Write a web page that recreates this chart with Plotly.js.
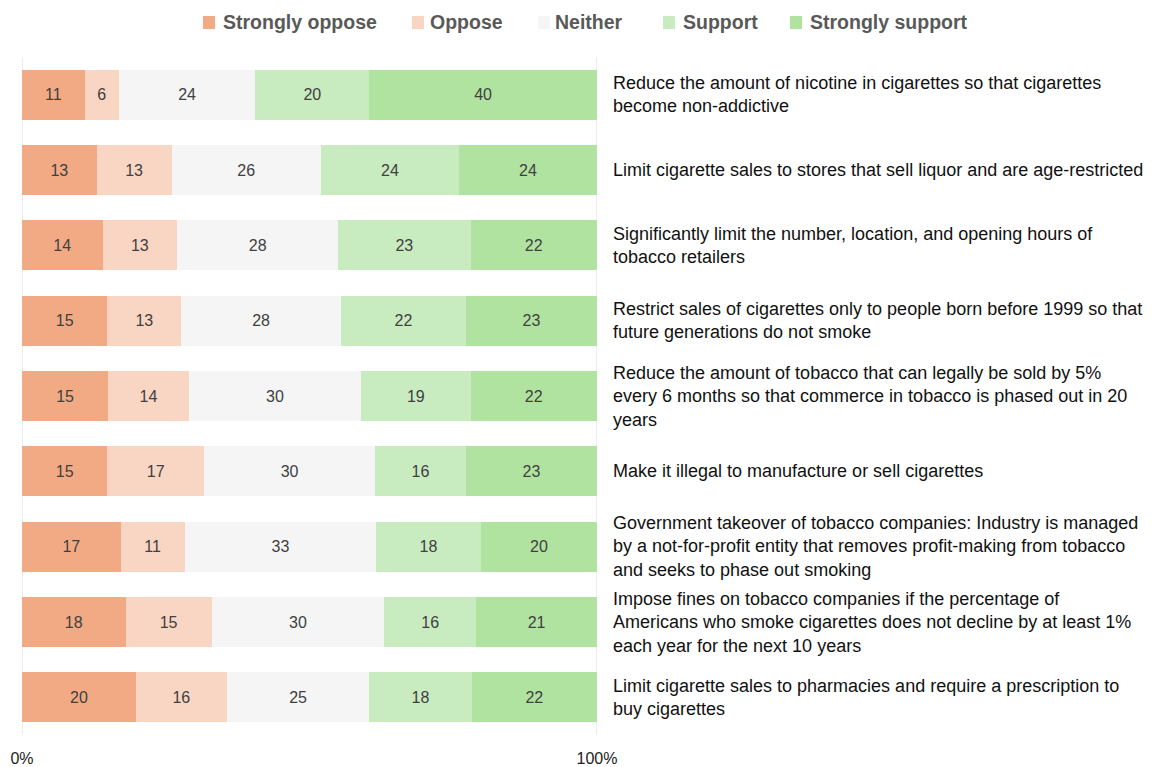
<!DOCTYPE html>
<html>
<head>
<meta charset="utf-8">
<script src="https://cdn.plot.ly/plotly-3.0.1.min.js"></script>
<style>html,body{margin:0;padding:0;background:#fff;}#chart{width:1173px;height:767px;}</style>
</head>
<body>
<div id="chart"></div>
<script>
const statements = [
  "Reduce the amount of nicotine in cigarettes so that cigarettes<br>become non-addictive",
  "Limit cigarette sales to stores that sell liquor and are age-restricted",
  "Significantly limit the number, location, and opening hours of<br>tobacco retailers",
  "Restrict sales of cigarettes only to people born before 1999 so that<br>future generations do not smoke",
  "Reduce the amount of tobacco that can legally be sold by 5%<br>every 6 months so that commerce in tobacco is phased out in 20<br>years",
  "Make it illegal to manufacture or sell cigarettes",
  "Government takeover of tobacco companies: Industry is managed<br>by a not-for-profit entity that removes profit-making from tobacco<br>and seeks to phase out smoking",
  "Impose fines on tobacco companies if the percentage of<br>Americans who smoke cigarettes does not decline by at least 1%<br>each year for the next 10 years",
  "Limit cigarette sales to pharmacies and require a prescription to<br>buy cigarettes"
];
const seriesNames = ["Strongly oppose", "Oppose", "Neither", "Support", "Strongly support"];
const stronglyOppose  = [11, 13, 14, 15, 15, 15, 17, 18, 20];
const oppose          = [6, 13, 13, 13, 14, 17, 11, 15, 16];
const neither         = [24, 26, 28, 28, 30, 30, 33, 30, 25];
const support         = [20, 24, 23, 22, 19, 16, 18, 16, 18];
const stronglySupport = [40, 24, 22, 23, 22, 23, 20, 21, 22];
const tickVals = [0, 100];
const tickText = ["0%", "100%"];

const seriesValues = [stronglyOppose, oppose, neither, support, stronglySupport];
const colors = ["#F2AA84", "#F9D5C3", "#F5F5F5", "#C9EBC0", "#B1E3A0"];

const ids = statements.map((s, i) => "s" + i);

// layout geometry (pixels)
const W = 1173, H = 767;
const M = {l: 22, r: 576, t: 57, b: 32};
const plotW = W - M.l - M.r, plotH = H - M.t - M.b;
const px2x = p => (p - M.l) / plotW;
const py2y = p => (H - M.b - p) / plotH;

const traces = seriesNames.map((name, k) => ({
  type: "bar",
  orientation: "h",
  name: name,
  y: ids,
  x: seriesValues[k],
  text: seriesValues[k].map(String),
  texttemplate: "%{text}",
  textposition: "inside",
  insidetextanchor: "middle",
  textangle: 0,
  constraintext: "none",
  textfont: {family: "Liberation Sans, Arial, sans-serif", size: 16, color: "#404040"},
  marker: {color: colors[k], line: {width: 0}},
  hoverinfo: "skip"
}));

const annotations = statements.map((s, i) => ({
  xref: "paper", yref: "y",
  x: 1, y: ids[i],
  xanchor: "left", yanchor: "middle",
  xshift: 14,
  align: "left",
  showarrow: false,
  text: s,
  font: {family: "Liberation Sans, Arial, sans-serif", size: 18, color: "#111111"}
}));

// grid lines at the axis ends
const shapes = tickVals.map(v => ({
  type: "line", xref: "x", yref: "paper",
  x0: v, x1: v, y0: 0, y1: 1,
  line: {color: "#D9D9D9", width: 1},
  layer: "below"
}));

// manual legend
const legSymbolLeft = [203, 412, 538, 663, 790];
const legTextLeft = [221, 428, 553, 681, 808];
const legY = 22;
seriesNames.forEach((name, k) => {
  shapes.push({
    type: "rect", xref: "paper", yref: "paper",
    x0: px2x(legSymbolLeft[k]), x1: px2x(legSymbolLeft[k] + 12),
    y0: py2y(legY + 7), y1: py2y(legY - 6),
    fillcolor: colors[k], line: {width: 0}
  });
  annotations.push({
    xref: "paper", yref: "paper",
    x: px2x(legTextLeft[k]), y: py2y(legY),
    xanchor: "left", yanchor: "middle",
    showarrow: false,
    text: "<b>" + name + "</b>",
    font: {family: "Liberation Sans, Arial, sans-serif", size: 19.5, color: "#595959"}
  });
});

const layout = {
  width: W, height: H,
  margin: M,
  paper_bgcolor: "#ffffff", plot_bgcolor: "#ffffff",
  barmode: "stack",
  barnorm: "percent",
  bargap: 0.337,
  showlegend: false,
  xaxis: {
    range: [0, 100],
    tickvals: tickVals,
    ticktext: tickText,
    showgrid: true,
    gridcolor: "#D9D9D9",
    gridwidth: 1,
    zeroline: false,
    showline: false,
    ticks: "",
    ticklabelstandoff: 12,
    tickfont: {family: "Liberation Sans, Arial, sans-serif", size: 16, color: "#222222"},
    fixedrange: true
  },
  yaxis: {
    type: "category",
    autorange: "reversed",
    showticklabels: false,
    showgrid: false,
    zeroline: false,
    showline: false,
    ticks: "",
    fixedrange: true
  },
  shapes: shapes,
  annotations: annotations
};

Plotly.newPlot("chart", traces, layout, {displayModeBar: false, staticPlot: true});
</script>
</body>
</html>
